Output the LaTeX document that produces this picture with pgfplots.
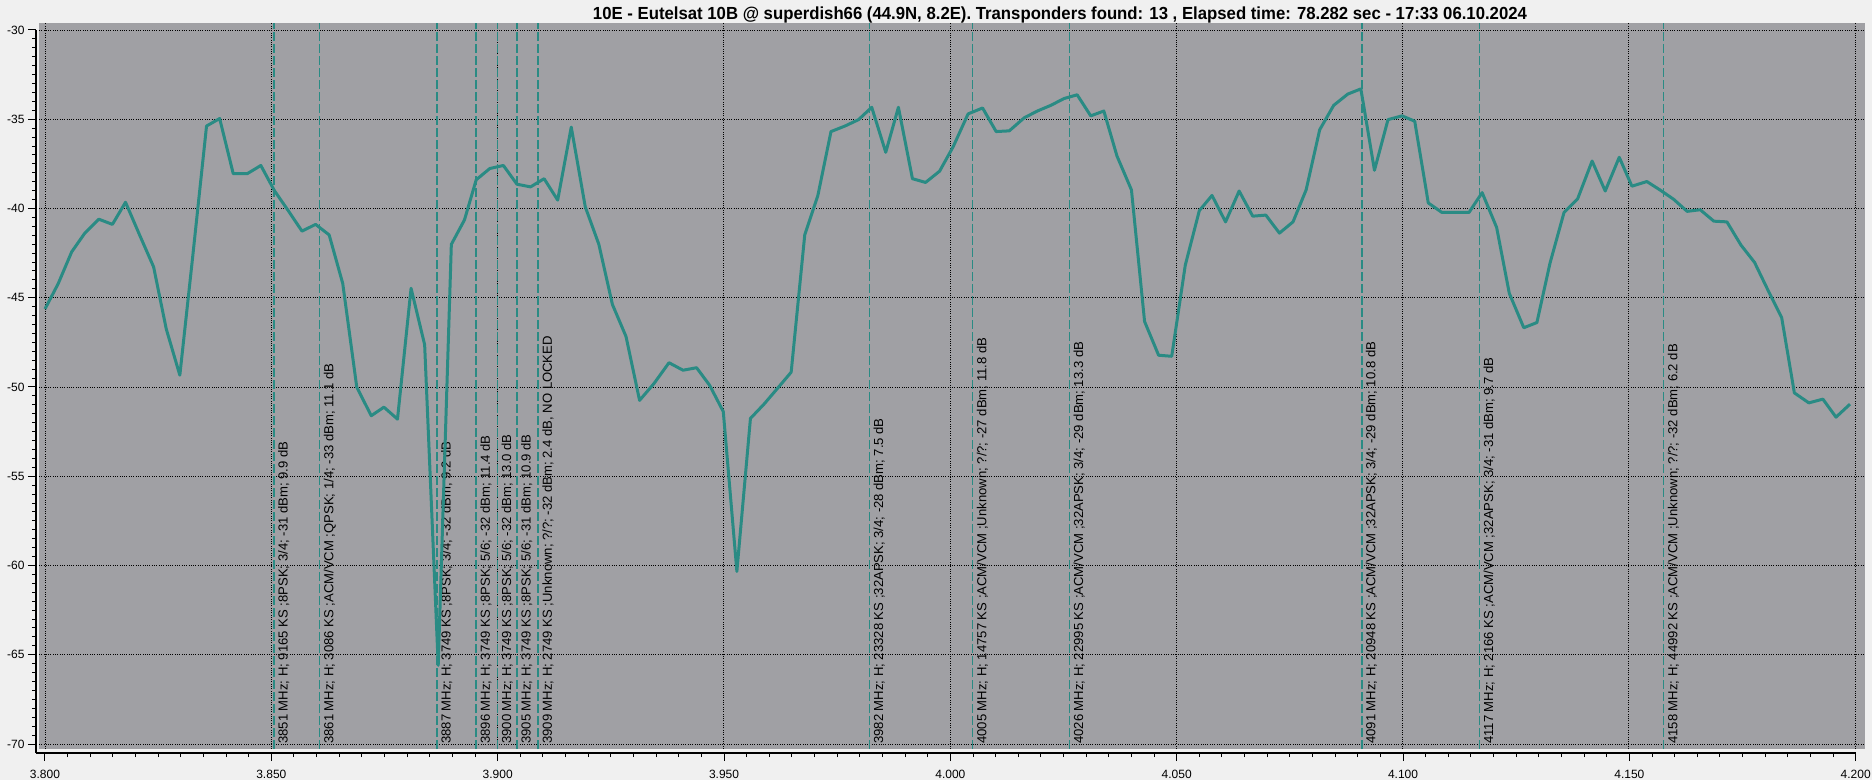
\documentclass[border=0pt]{standalone}
\usepackage{graphicx}
\usepackage{pgfplots}
\pgfplotsset{compat=1.18}
\usepackage{fontspec}
\setmainfont{Liberation Sans}
\definecolor{bg}{RGB}{240,240,240}
\definecolor{plotbg}{RGB}{160,160,164}
\definecolor{tealc}{RGB}{42,139,132}
\newcommand\lab{\fontsize{13.1}{15}\selectfont}
\pgfplotstableread{
x y
3.8000 -45.63
3.8029 -44.22
3.8059 -42.43
3.8088 -41.38
3.8119 -40.60
3.8149 -40.89
3.8178 -39.65
3.8209 -41.48
3.8240 -43.27
3.8268 -46.75
3.8298 -49.34
3.8326 -42.80
3.8357 -35.38
3.8386 -34.96
3.8416 -38.05
3.8447 -38.05
3.8477 -37.59
3.8507 -39.00
3.8537 -40.10
3.8568 -41.27
3.8598 -40.89
3.8628 -41.48
3.8658 -44.20
3.8689 -50.01
3.8721 -51.61
3.8749 -51.13
3.8779 -51.80
3.8809 -44.47
3.8839 -47.63
3.8869 -65.59
3.8898 -42.01
3.8927 -40.64
3.8953 -38.39
3.8983 -37.76
3.9013 -37.59
3.9043 -38.64
3.9073 -38.79
3.9103 -38.33
3.9133 -39.53
3.9163 -35.44
3.9194 -39.91
3.9224 -42.01
3.9254 -45.38
3.9284 -47.17
3.9314 -50.75
3.9346 -49.80
3.9379 -48.64
3.9410 -49.06
3.9440 -48.92
3.9469 -49.91
3.9499 -51.38
3.9529 -60.33
3.9559 -51.76
3.9589 -50.96
3.9619 -50.07
3.9649 -49.17
3.9679 -41.48
3.9708 -39.27
3.9737 -35.69
3.9768 -35.38
3.9798 -35.02
3.9827 -34.33
3.9858 -36.85
3.9886 -34.33
3.9917 -38.33
3.9946 -38.54
3.9977 -37.91
4.0007 -36.54
4.0040 -34.70
4.0072 -34.37
4.0102 -35.69
4.0131 -35.65
4.0164 -34.92
4.0193 -34.54
4.0223 -34.22
4.0252 -33.84
4.0281 -33.63
4.0311 -34.81
4.0340 -34.54
4.0369 -37.06
4.0401 -38.96
4.0430 -46.33
4.0461 -48.22
4.0490 -48.28
4.0520 -43.17
4.0551 -40.12
4.0579 -39.27
4.0609 -40.75
4.0639 -39.02
4.0669 -40.43
4.0698 -40.37
4.0728 -41.38
4.0758 -40.75
4.0787 -38.96
4.0817 -35.59
4.0848 -34.22
4.0879 -33.59
4.0908 -33.30
4.0938 -37.86
4.0968 -35.02
4.0999 -34.81
4.1027 -35.11
4.1057 -39.69
4.1087 -40.22
4.1117 -40.22
4.1147 -40.22
4.1176 -39.11
4.1208 -41.06
4.1236 -44.75
4.1268 -46.68
4.1297 -46.39
4.1326 -43.06
4.1357 -40.22
4.1387 -39.46
4.1419 -37.34
4.1448 -39.02
4.1479 -37.13
4.1507 -38.75
4.1540 -38.49
4.1569 -38.96
4.1599 -39.48
4.1629 -40.16
4.1658 -40.07
4.1688 -40.71
4.1717 -40.75
4.1748 -42.05
4.1778 -43.02
4.1807 -44.54
4.1838 -46.12
4.1866 -50.33
4.1898 -50.89
4.1929 -50.68
4.1958 -51.69
4.1989 -50.96
}\spectrum
\begin{document}
\begin{tikzpicture}[x=1pt,y=1pt]
\path[use as bounding box, fill=bg] (0,0) rectangle (1872,780);
\begin{axis}[at={(39pt,31pt)}, anchor=south west, scale only axis,
  width=1826pt, height=726pt,
  xmin=3.798675, xmax=4.202209, ymin=-70.2801, ymax=-29.6078,
  axis background/.style={fill=plotbg},
  axis line style={draw=none},
  xtick={3.8,3.85,3.9,3.95,4.0,4.05,4.1,4.15,4.2},
  ytick={-70,-65,-60,-55,-50,-45,-40,-35,-30},
  xticklabels={}, yticklabels={},
  major tick length=0pt, tick style={draw=none},
  grid=major,
  major grid style={black, line width=0.8pt, dash pattern=on 1pt off 1.3pt},
]
\pgfplotsinvokeforeach{3.8506,3.8607,3.8866,3.8953,3.9000,3.9043,3.9090,3.9822,4.0050,4.0264,4.0910,4.1170,4.1577}{
  \addplot[tealc, line width=1.6pt, dash pattern=on 9pt off 3pt] coordinates {(#1,-70.28) (#1,-29.61)};
}
\node[rotate=90, anchor=north west, inner sep=0pt, font=\lab] at ([xshift=4pt]axis cs:3.8506,-70) {3851 MHz; H; 9165 KS ;8PSK; 3/4; -31 dBm; 9.9 dB};
\node[rotate=90, anchor=north west, inner sep=0pt, font=\lab] at ([xshift=4pt]axis cs:3.8607,-70) {3861 MHz; H; 3086 KS ;ACM/VCM ;QPSK; 1/4; -33 dBm; 11.1 dB};
\node[rotate=90, anchor=north west, inner sep=0pt, font=\lab] at ([xshift=4pt]axis cs:3.8866,-70) {3887 MHz; H; 3749 KS ;8PSK; 3/4; -32 dBm; 9.2 dB};
\node[rotate=90, anchor=north west, inner sep=0pt, font=\lab] at ([xshift=4pt]axis cs:3.8953,-70) {3896 MHz; H; 3749 KS ;8PSK; 5/6; -32 dBm; 11.4 dB};
\node[rotate=90, anchor=north west, inner sep=0pt, font=\lab] at ([xshift=4pt]axis cs:3.9000,-70) {3900 MHz; H; 3749 KS ;8PSK; 5/6; -32 dBm; 13.0 dB};
\node[rotate=90, anchor=north west, inner sep=0pt, font=\lab] at ([xshift=4pt]axis cs:3.9043,-70) {3905 MHz; H; 3749 KS ;8PSK; 5/6; -31 dBm; 10.9 dB};
\node[rotate=90, anchor=north west, inner sep=0pt, font=\lab] at ([xshift=4pt]axis cs:3.9090,-70) {3909 MHz; H; 2749 KS ;Unknown; ?/?; -32 dBm; 2.4 dB, NO LOCKED};
\node[rotate=90, anchor=north west, inner sep=0pt, font=\lab] at ([xshift=4pt]axis cs:3.9822,-70) {3982 MHz; H; 23328 KS ;32APSK; 3/4; -28 dBm; 7.5 dB};
\node[rotate=90, anchor=north west, inner sep=0pt, font=\lab] at ([xshift=4pt]axis cs:4.0050,-70) {4005 MHz; H; 14757 KS ;ACM/VCM ;Unknown; ?/?; -27 dBm; 11.8 dB};
\node[rotate=90, anchor=north west, inner sep=0pt, font=\lab] at ([xshift=4pt]axis cs:4.0264,-70) {4026 MHz; H; 22995 KS ;ACM/VCM ;32APSK; 3/4; -29 dBm; 13.3 dB};
\node[rotate=90, anchor=north west, inner sep=0pt, font=\lab] at ([xshift=4pt]axis cs:4.0910,-70) {4091 MHz; H; 20948 KS ;ACM/VCM ;32APSK; 3/4; -29 dBm; 10.8 dB};
\node[rotate=90, anchor=north west, inner sep=0pt, font=\lab] at ([xshift=4pt]axis cs:4.1170,-70) {4117 MHz; H; 2166 KS ;ACM/VCM ;32APSK; 3/4; -31 dBm; 9.7 dB};
\node[rotate=90, anchor=north west, inner sep=0pt, font=\lab] at ([xshift=4pt]axis cs:4.1577,-70) {4158 MHz; H; 44992 KS ;ACM/VCM ;Unknown; ?/?; -32 dBm; 6.2 dB};
\addplot[tealc, line width=3pt, line join=round] table[x=x, y=y] {\spectrum};
\end{axis}
\begin{axis}[at={(36pt,27pt)}, anchor=south west, scale only axis,
  width=1819.7pt, height=723pt,
  xmin=3.798012, xmax=4.2, ymin=-70.5042, ymax=-30,
  axis x line*=bottom, axis y line*=left,
  axis line style={-, black, line width=1.2pt},
  xtick={3.8,3.85,3.9,3.95,4.0,4.05,4.1,4.15,4.2},
  xticklabels={3.800,3.850,3.900,3.950,4.000,4.050,4.100,4.150,4.200},
  ytick={-70,-65,-60,-55,-50,-45,-40,-35,-30},
  yticklabels={-70,-65,-60,-55,-50,-45,-40,-35,-30},
  minor x tick num=9, minor y tick num=9,
  tick align=outside, major tick length=8pt, minor tick length=4pt,
  tick style={black, line width=1pt},
  tick label style={font=\fontsize{12}{14}\selectfont},
  xticklabel style={yshift=-6pt},
]
\end{axis}
\node[anchor=base, font=\bfseries\fontsize{17.5}{20}\selectfont] at (1060,760.7) {\resizebox{934pt}{\height}{10E - Eutelsat 10B @ superdish66 (44.9N, 8.2E). Transponders found: 13 , Elapsed time: 78.282 sec - 17:33 06.10.2024}};
\end{tikzpicture}
\end{document}
